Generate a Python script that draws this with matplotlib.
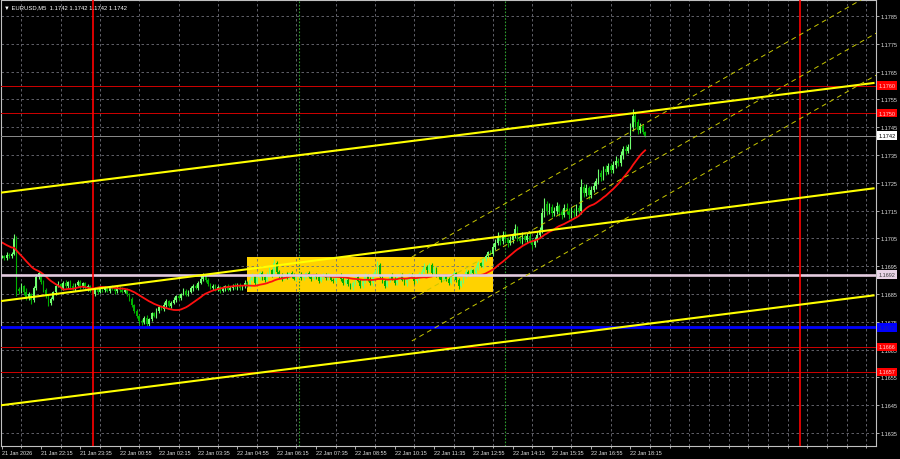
import numpy as np
import pandas as pd
import matplotlib
matplotlib.use("Agg")
import matplotlib.pyplot as plt
from matplotlib.patches import Rectangle

# EURUSD M5, prices in 1e-5 above 1.16000
history = [1085, 1078, 1090, 1072, 1080, 1065, 1070, 1058, 1062, 1050,
           1040, 1032, 1025, 1018, 1010, 1005, 998, 1002, 990, 985]

closes = [
    985, 978, 992, 986, 995, 1048, 868,                      # 0-6
    862, 880, 858, 836, 850, 828,                            # 7-12
    872, 912, 925, 892, 866, 842, 818, 832, 856, 878,        # 13-22
    885, 872, 890, 878, 894, 880, 868, 884,                  # 23-30
    892, 876, 888, 870, 878, 862, 850, 868, 858, 872, 864, 870,  # 31-42
    862, 874, 868, 860, 872, 866, 858, 864,                  # 43-50
    850, 832, 810, 790, 770, 752, 748, 765, 742, 760, 780, 772,  # 51-62
    790, 805, 796, 812, 824, 808, 818, 830,                  # 63-70
    842, 835, 850, 862, 848, 858, 870, 880, 872, 890,        # 71-80
    905, 918, 900, 886, 872,                                 # 81-85
    880, 866, 874, 862, 870, 878, 866, 872, 880, 874,        # 86-95
    884, 870, 878, 890, 882,                                 # 96-100
    900, 915, 890, 908, 925, 912, 900, 920, 935, 918, 960,   # 101-111
    930, 915, 905, 920, 910, 925, 918, 905, 912, 922, 908, 915, 926, 912,  # 112-125
    905, 918, 910, 898, 912, 920, 906, 915, 902, 896, 910, 918, 905,  # 126-138
    890, 902, 885, 875, 890, 912, 898, 880, 895, 915,        # 139-148
    905, 890, 920, 930, 955, 912, 895, 880, 900,             # 149-157
    915, 905, 890, 910, 920, 900, 888, 905, 918, 910, 895, 908, 920, 930,  # 158-171
    948, 935, 955, 925, 940, 918, 910, 900, 915,             # 172-180
    905, 890, 912, 925, 900, 880, 895, 915, 930, 920,        # 181-190
    935, 925, 945, 960, 950, 975, 985, 1000, 995,            # 191-199
    1020, 1035, 1055, 1040, 1062, 1048, 1035, 1045, 1060, 1085,  # 200-209
    1055, 1042, 1058, 1045, 1060, 1040, 1028, 1045, 1062, 1080,  # 210-219
    1140, 1175, 1150, 1162, 1140, 1150, 1165, 1145, 1135, 1160, 1150, 1135,  # 220-231
    1150, 1140, 1160, 1150, 1235, 1215, 1230, 1205, 1225, 1240,  # 232-241
    1255, 1285, 1270, 1300, 1290, 1310, 1295, 1315, 1330, 1320,  # 242-251
    1350, 1370, 1365, 1380, 1450, 1490, 1470, 1440, 1455, 1432, 1420,  # 252-262
]

wick_hi = [
    6, 4, 8, 5, 7, 18, 10, 6, 9, 4, 12, 7, 5, 8, 10, 6, 4, 9, 7, 5,
    8, 6, 4, 10, 5, 7, 9, 4, 6, 8, 5, 7, 10, 4, 6, 8, 5, 9, 6, 4,
    7, 5, 8, 6, 4, 9, 5, 7, 6, 8, 4, 6, 5, 8, 4, 7, 5, 9, 6, 8,
    5, 7, 4, 9, 6, 5, 8, 7, 4, 6, 9, 5, 7, 4, 8, 6, 5, 9, 7, 6,
    8, 12, 6, 5, 9, 4, 7, 6, 8, 5, 7, 4, 9, 6, 5, 8, 6, 7, 4, 9,
    6, 8, 10, 5, 7, 9, 6, 4, 8, 11, 6, 16, 7, 5, 9, 6, 8, 4, 7, 6,
    9, 5, 7, 8, 4, 6, 9, 5, 7, 6, 8, 4, 7, 9, 5, 6, 8, 4, 7, 5,
    9, 6, 4, 8, 10, 5, 7, 6, 9, 8, 5, 7, 10, 14, 6, 5, 8, 7, 4, 9,
    6, 8, 5, 7, 9, 4, 6, 8, 5, 7, 9, 10, 12, 6, 8, 5, 9, 7, 4, 6,
    8, 5, 7, 9, 6, 4, 8, 7, 5, 9, 6, 8, 5, 10, 7, 6, 9, 8, 5, 7,
    15, 12, 18, 9, 14, 11, 8, 12, 10, 17, 11, 9, 14, 8, 12, 10, 9, 11, 14, 12,
    18, 22, 11, 14, 10, 12, 16, 9, 11, 14, 18, 10, 12, 9, 14, 9, 29, 11, 15, 10,
    12, 14, 11, 16, 12, 10, 15, 11, 13, 12, 16, 11, 14, 12, 15, 11, 14, 25, 13, 10,
    11, 8, 6,
]

wick_lo = [
    5, 7, 4, 8, 6, 5, 25, 12, 8, 10, 6, 9, 15, 5, 7, 8, 6, 10, 8, 12,
    6, 5, 8, 4, 7, 9, 5, 6, 8, 4, 7, 5, 9, 6, 4, 8, 6, 5, 7, 9,
    5, 8, 6, 4, 7, 5, 9, 6, 8, 4, 6, 9, 7, 8, 10, 6, 9, 8, 7, 10,
    6, 8, 5, 7, 9, 4, 6, 8, 5, 7, 4, 9, 6, 8, 5, 7, 4, 6, 8, 5,
    7, 5, 9, 6, 8, 4, 7, 5, 6, 9, 5, 8, 4, 7, 6, 5, 8, 6, 4, 7,
    6, 9, 5, 8, 4, 7, 10, 6, 5, 8, 7, 4, 9, 6, 8, 5, 7, 6, 9, 4,
    7, 5, 8, 6, 9, 4, 7, 6, 5, 8, 6, 9, 4, 7, 5, 8, 6, 4, 9, 6,
    8, 5, 7, 10, 6, 4, 9, 8, 5, 7, 6, 10, 5, 7, 8, 6, 9, 4, 7, 5,
    8, 6, 9, 5, 7, 10, 6, 4, 8, 5, 7, 6, 5, 8, 6, 9, 4, 7, 6, 8,
    5, 9, 6, 4, 8, 7, 12, 6, 5, 8, 4, 7, 6, 5, 8, 4, 6, 5, 7, 4,
    8, 11, 9, 14, 10, 12, 16, 9, 11, 8, 14, 10, 12, 9, 11, 8, 15, 9, 7, 10,
    9, 12, 16, 12, 14, 10, 11, 14, 16, 9, 12, 15, 10, 14, 11, 9, 12, 16, 11, 14,
    10, 9, 12, 11, 14, 10, 12, 9, 11, 10, 12, 11, 9, 14, 10, 8, 9, 12, 18, 14,
    10, 8, 6,
]

time_labels = ["21 Jan 2026", "21 Jan 22:15", "21 Jan 23:35", "22 Jan 00:55",
               "22 Jan 02:15", "22 Jan 03:35", "22 Jan 04:55", "22 Jan 06:15",
               "22 Jan 07:35", "22 Jan 08:55", "22 Jan 10:15", "22 Jan 11:35",
               "22 Jan 12:55", "22 Jan 14:15", "22 Jan 15:35", "22 Jan 16:55",
               "22 Jan 18:15"]
price_ticks = [1.1785, 1.1775, 1.1765, 1.1755, 1.1745, 1.1735, 1.1725, 1.1715,
               1.1705, 1.1695, 1.1685, 1.1675, 1.1665, 1.1655, 1.1645, 1.1635]

# horizontal levels
level_prices = [1.1760, 1.1750, 1.1742, 1.1692, 1.1673, 1.1666, 1.1657]
level_colors = ["#d00000", "#d00000", "#8c8c8c", "#e4cce0", "#0000ff", "#d00000", "#d00000"]
level_widths = [0.7, 0.7, 0.7, 1.9, 2.0, 0.7, 0.7]
label_bg = ["#ff0000", "#ff0000", "#ffffff", "#e8d4e6", "#0000ff", "#ff0000", "#ff0000"]
label_fg = ["#ffd0d0", "#ffd0d0", "#000000", "#404040", "#2020a0", "#ffd0d0", "#ffd0d0"]

# trend channel anchors (bar, price)
trend_bars = [0, 355]
trend_top = [1.17215, 1.17609]
trend_mid = [1.16825, 1.17230]
trend_bot = [1.16450, 1.16845]
chan_bars = [167, 357]
chan_top = [1.16983, 1.17944]
chan_mid = [1.16832, 1.17793]
chan_bot = [1.16681, 1.17642]

box_bars = [100, 200]
box_prices = [1.16857, 1.16983]
day_bars = [37, 325]
session_bars = [121, 205]

# ---- data ----
c = 1.16 + np.array(closes) / 1e5
o = np.r_[1.16 + history[-1] / 1e5, c[:-1]]
hi = np.maximum(o, c) + np.array(wick_hi) / 1e5
lo = np.minimum(o, c) - np.array(wick_lo) / 1e5
x = np.arange(len(c))
ma = pd.Series(history + closes).rolling(20).mean().to_numpy()[len(history):]
ma = 1.16 + ma / 1e5

fam = ["Liberation Sans", "DejaVu Sans"]
fig = plt.figure(figsize=(9, 4.6), dpi=100, facecolor="black")
ax = fig.add_axes([1 / 900, 13 / 460, 875 / 900, 446 / 460], facecolor="black")
ax.set_xlim(-0.3, 356)
ax.set_ylim(1.163032, 1.179076)

# background rectangle
ax.add_patch(Rectangle((box_bars[0], box_prices[0]), box_bars[1] - box_bars[0],
                       box_prices[1] - box_prices[0], facecolor="#ffd200",
                       edgecolor="none", zorder=0.5))

# candles
up = c >= o
col = np.where(up, "#70ff70", "#00b000")
ax.vlines(x, lo, hi, colors=col, lw=0.8, zorder=2)
ax.bar(x, c - o, bottom=o, width=0.7, color=col, lw=0, zorder=2)
ax.plot(x, ma, color="#ff1010", lw=1.3, zorder=2.5)

# levels
for p, lc, lw in zip(level_prices, level_colors, level_widths):
    ax.axhline(p, color=lc, lw=lw, zorder=3)
for b in day_bars:
    ax.axvline(b, color="#ff0000", lw=1.2, zorder=3)
for b in session_bars:
    ax.axvline(b, color="#2e9a2e", lw=0.8, ls=(0, (1.5, 1.5)), zorder=1.6)

# trend lines
for ys in (trend_top, trend_mid, trend_bot):
    ax.plot(trend_bars, ys, color="#ffff00", lw=1.5, zorder=3)
for ys in (chan_top, chan_mid, chan_bot):
    ax.plot(chan_bars, ys, color="#c8c800", lw=0.7, ls=(0, (5, 4)), zorder=3)

# axes styling
ax.yaxis.tick_right()
ax.set_yticks(price_ticks)
ax.set_yticklabels([f"{p:.4f}" for p in price_ticks], fontfamily=fam)
ax.set_xticks(range(0, 16 * len(time_labels), 16))
ax.set_xticklabels(time_labels, fontfamily=fam, ha="left")
ax.set_xticks(range(0, 357, 8), minor=True)
ax.tick_params(axis="both", colors="#c8c8c8", labelcolor="#e0e0e0",
               labelsize=4.0, length=2, width=0.6, pad=1.2)
ax.tick_params(axis="x", which="minor", colors="#c8c8c8", length=1.5, width=0.6)
ax.grid(which="minor", axis="x", color="#6e6e78", lw=0.6, ls=(0, (3, 3)))
ax.grid(which="major", axis="y", color="#6e6e78", lw=0.6, ls=(0, (3, 3)))
for s in ax.spines.values():
    s.set_color("#c0c0c0")
    s.set_linewidth(0.8)

# price labels on the right scale
ytr = ax.get_yaxis_transform()
for p, bg, fg in zip(level_prices, label_bg, label_fg):
    ax.text(1.003, p, f"{p:.4f}", transform=ytr, fontsize=4.0, fontfamily=fam,
            color=fg, va="center", ha="left", clip_on=False, zorder=6,
            bbox=dict(boxstyle="square,pad=0.3", fc=bg, ec="none"))

ax.text(0.004, 0.991, "\u25bc EURUSD,M5  1.1742 1.1742 1.1742 1.1742",
        transform=ax.transAxes, fontsize=4.2, fontfamily=fam, color="white",
        va="top", ha="left", zorder=6)

fig.savefig("out.png", dpi=100, facecolor="black")
